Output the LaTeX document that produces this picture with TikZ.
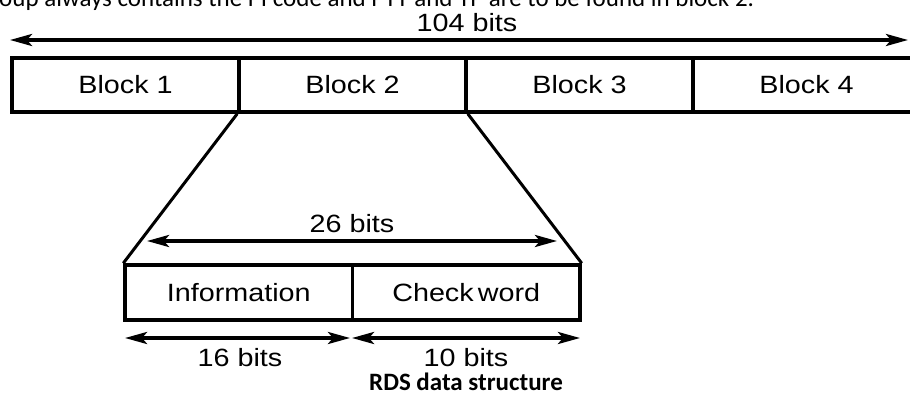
\documentclass[tikz,border=0pt]{standalone}
\usepackage{fontspec}
\setmainfont{Carlito}
\newfontfamily\diagfont[FakeStretch=1.15]{Liberation Sans}
\usetikzlibrary{arrows.meta}

\tikzset{
  blockbox/.style={draw, line width=3.5pt, minimum width=227pt, minimum height=54pt,
    inner sep=0pt, font=\diagfont\fontsize{25}{30}\selectfont},
  bitlabel/.style={anchor=base, inner sep=0pt, font=\diagfont\fontsize{25}{30}\selectfont},
  bitarrow/.style={<->, line width=3.5pt},
  funnel/.style={line width=3pt}
}

\begin{document}
\begin{tikzpicture}[>={Stealth[length=22pt,width=12pt,inset=5pt]}, x=1pt, y=-1pt]
\useasboundingbox (0,0) rectangle (910,396);
\clip (0,0) rectangle (910,396);

% cut-off line of the page text above
\node[anchor=base west, inner sep=0pt, font=\fontsize{25}{30}\selectfont] (toptext) at (-1,7)
  {oup always contains the PI code and PTY and TP are to be found in block 2.};

% group of four blocks
\foreach \i in {1,...,4}
  \node[blockbox] (block\i) at ({12+227*(\i-0.5)},85) {Block \i};

\coordinate (groupL) at (10,40);
\coordinate (groupR) at (908,40);
\draw[bitarrow] (groupL) -- (groupR);
\node[bitlabel] (grouplen) at (467,32) {104 bits};

% one block in detail
\node[blockbox, minimum width=227.5pt, minimum height=55pt] (info) at (238.75,292.5) {Information};
\node[blockbox, minimum width=227.5pt, minimum height=55pt] (check) at (466.25,292.5) {Check\,word};

\draw[funnel] (block2.south west) -- (info.north west);
\draw[funnel] (block2.south east) -- (check.north east);

\coordinate (blockL) at (147,241);
\coordinate (blockR) at (557,241);
\draw[bitarrow] (blockL) -- (blockR);
\node[bitlabel] (blocklen) at (352,232) {26 bits};

\coordinate (infoL) at (125,338);
\coordinate (infoR) at (350,338);
\coordinate (checkL) at (352,338);
\coordinate (checkR) at (580,338);
\draw[bitarrow] (infoL) -- (infoR);
\draw[bitarrow] (checkL) -- (checkR);
\node[bitlabel] (infolen) at (240,366) {16 bits};
\node[bitlabel] (checklen) at (466,366) {10 bits};

\node[anchor=base, inner sep=0pt, font=\bfseries\fontsize{25}{30}\selectfont] (caption) at (466,390) {RDS data structure};
\end{tikzpicture}
\end{document}
